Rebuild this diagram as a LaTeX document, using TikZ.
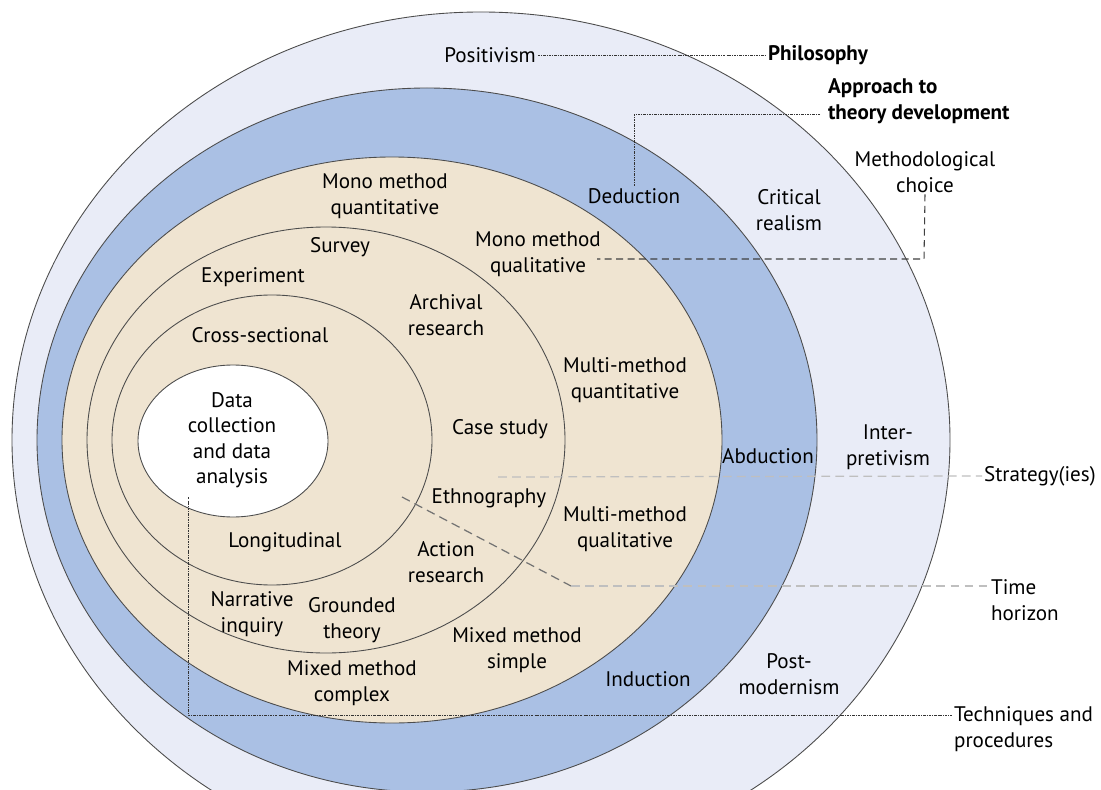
\documentclass[tikz,border=0pt]{standalone}
\usepackage{fontspec}
\setmainfont{PT Sans}
\usetikzlibrary{positioning}

\begin{document}
\begin{tikzpicture}[x=0.02cm,y=-0.02cm,
    every node/.style={font=\fontsize{12}{14.5}\selectfont, align=center, inner sep=1pt},
    head/.style={font=\fontsize{12}{14.5}\selectfont\bfseries, align=left},
    side/.style={align=left},
    ring/.style={draw=black!70, line width=0.5pt},
    dotlink/.style={black!80, line width=0.55pt, dash pattern=on 1.4pt off 0.6pt on 0.5pt off 0.6pt},
    dashlink/.style={black!75, line width=0.6pt, dash pattern=on 4pt off 2.5pt},
    greylink/.style={black!25, line width=0.7pt, dash pattern=on 5pt off 3pt}]

    % Colors
    \definecolor{philocol}{RGB}{233,236,247}
    \definecolor{approachcol}{RGB}{170,192,228}
    \definecolor{choicecol}{RGB}{239,228,209}

    \clip (0,0) rectangle (1101,790);
    \fill[white] (0,0) rectangle (1101,790);

    % ======================
    % Layers of the onion
    % ======================
    % Philosophy
    \fill[philocol] (481,440) ellipse [x radius=469, y radius=428];
    \draw[ring] (481,440) ellipse [x radius=469, y radius=428];

    % Approach to theory development
    \fill[approachcol] (427,440) ellipse [x radius=390, y radius=352];
    \draw[ring] (427,440) ellipse [x radius=390, y radius=352];

    % Methodological choice
    \fill[choicecol] (392,440) ellipse [x radius=330, y radius=283];
    \draw[ring] (392,440) ellipse [x radius=330, y radius=283];

    % Strategies
    \draw[ring] (326,440) ellipse [x radius=239, y radius=213];

    % Time horizon
    \draw[ring] (272,440) ellipse [x radius=160, y radius=145];

    % Techniques and procedures (core)
    \fill[white] (233,441) ellipse [x radius=95, y radius=76];
    \draw[ring] (233,441) ellipse [x radius=95, y radius=76];

    % ======================
    % Labels inside the layers
    % ======================
    \node (positivism) at (490,55) {Positivism};
    \node (deduction) at (634,196) {Deduction};
    \node (critical) at (789,210) {Critical\\realism};
    \node (abduction) at (768,456) {Abduction};
    \node (interpret) at (888,447) {Inter-\\pretivism};
    \node (induction) at (648,679) {Induction};
    \node (postmod) at (789,674) {Post-\\modernism};

    \node (monoquant) at (385,196) {Mono method\\quantitative};
    \node (monoqual) at (538,254) {Mono method\\qualitative};
    \node (multiquant) at (625,380) {Multi-method\\quantitative};
    \node (multiqual) at (625,529) {Multi-method\\qualitative};
    \node (mixsimple) at (517,650) {Mixed method\\simple};
    \node (mixcomplex) at (352,683) {Mixed method\\complex};

    \node (survey) at (340,247) {Survey};
    \node (experiment) at (253,277) {Experiment};
    \node (archival) at (446,315) {Archival\\research};
    \node (casestudy) at (500,429) {Case study};
    \node (ethno) at (489,498) {Ethnography};
    \node (action) at (446,562) {Action\\research};
    \node (grounded) at (352,620) {Grounded\\theory};
    \node (narrative) at (252,614) {Narrative\\inquiry};

    \node (crosssec) at (260,335) {Cross-sectional};
    \node (longit) at (285,542) {Longitudinal};

    \node (datacoll) at (232,440) {Data\\collection\\and data\\analysis};

    % ======================
    % Layer names (right side)
    % ======================
    \node[head, anchor=west] (philosophy) at (766,55) {Philosophy};
    \node[head, anchor=west] (approach) at (826,101) {Approach to\\theory development};
    \node (choice) at (925,172) {Methodological\\choice};
    \node[side, anchor=west] (strategy) at (982,476) {Strategy(ies)};
    \node[side, anchor=west] (timehor) at (989,600) {Time\\horizon};
    \node[side, anchor=west] (techniques) at (952,729) {Techniques and\\procedures};

    % ======================
    % Leader lines
    % ======================
    \coordinate (apstart) at (820,114);
    \coordinate (chbend) at (924,259);
    \coordinate (chend) at (597,259);
    \coordinate (stratstart) at (498,477);
    \coordinate (timestart) at (402,497);
    \coordinate (timebend) at (571,586);
    \coordinate (techstart) at (188,497);
    \coordinate (techbend) at (188,715);

    \draw[dotlink] (positivism) -- (philosophy);
    \draw[dotlink] (apstart) -| (deduction.north);
    \draw[dashlink] (choice.south) -- (chbend) -- (chend);
    \draw[greylink] (stratstart) -- (strategy.west);
    \draw[greylink, black!55] (timestart) -- (timebend);
    \draw[greylink] (timebend) -- (timehor.west |- timebend);
    \draw[dotlink] (techstart) -- (techbend) -- (techniques.west |- techbend);

  \end{tikzpicture}
\end{document}
